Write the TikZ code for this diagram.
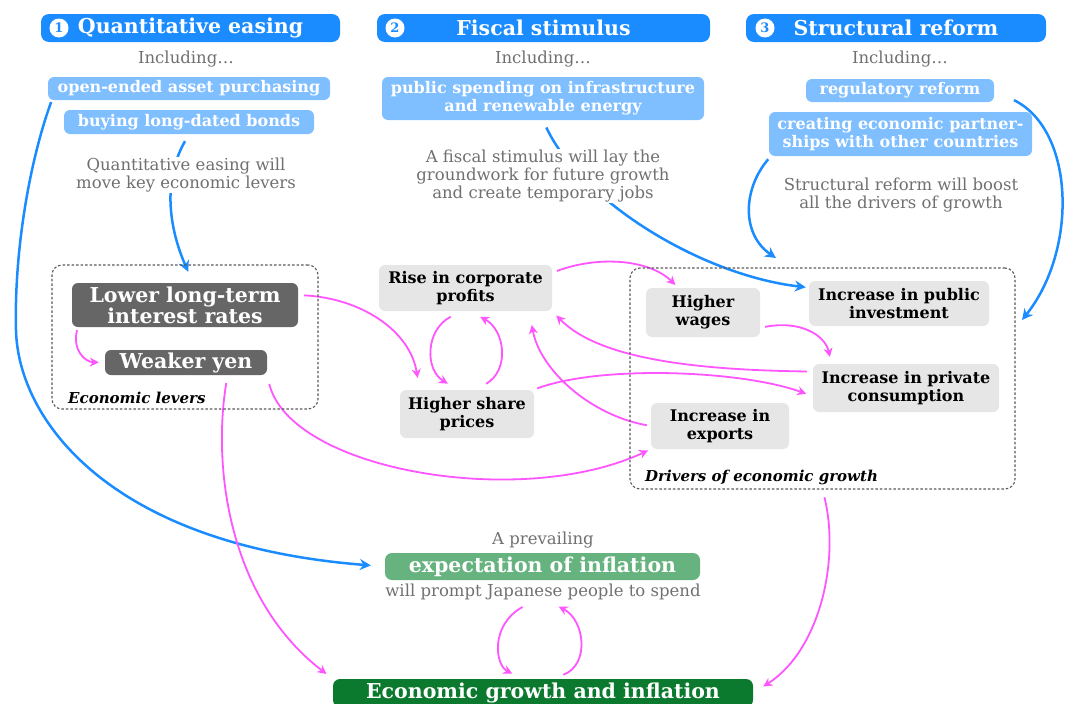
\documentclass[tikz,border=0pt]{standalone}
\usepackage{fontspec}
\setmainfont{DejaVu Serif}
\usetikzlibrary{positioning,arrows.meta,backgrounds}

\definecolor{qeblue}{HTML}{1A8CFF}
\definecolor{itemblue}{HTML}{80BFFF}
\definecolor{notegray}{HTML}{707070}
\definecolor{levergray}{HTML}{666666}
\definecolor{drivergray}{HTML}{E6E6E6}
\definecolor{expectgreen}{HTML}{66B380}
\definecolor{growthgreen}{HTML}{0B7A2E}
\definecolor{boost}{HTML}{FF55FF}

\newcommand{\fsz}[2]{\fontsize{#1}{#2}\selectfont}

\tikzset{
  header/.style={fill=qeblue, text=white, rounded corners=8pt, inner sep=0pt, minimum height=28pt, font=\bfseries\fsz{20.5}{22}},
  numdot/.style={circle, fill=white, text=qeblue, inner sep=0pt, minimum size=19pt, font=\bfseries\fsz{13}{13}},
  including/.style={text=notegray, inner sep=1pt, font=\fsz{16.5}{18}},
  item/.style={fill=itemblue, text=white, rounded corners=6pt, inner sep=0pt, align=center, font=\bfseries\fsz{16}{18}},
  note/.style={fill=white, text=notegray, inner sep=1pt, align=center, font=\fsz{16.5}{18}},
  lever/.style={fill=levergray, text=white, rounded corners=6pt, inner sep=0pt, align=center, font=\bfseries\fsz{20.5}{20}},
  driver/.style={fill=drivergray, text=black, rounded corners=6pt, inner sep=0pt, align=center, font=\bfseries\fsz{16}{18}},
  group/.style={draw=black!65, line width=1.1pt, dash pattern=on 2.5pt off 2pt, rounded corners=10pt, inner sep=0pt},
  grouplabel/.style={anchor=west, inner sep=0pt, font=\bfseries\itshape\fsz{15}{16}},
  outcome/.style={text=white, rounded corners=7pt, inner sep=0pt, font=\bfseries\fsz{20.5}{22}},
  push/.style={draw=qeblue, line width=2.5pt, -{Stealth[length=11pt,width=11pt]}},
  boostarrow/.style={draw=boost, line width=1.8pt, -{Stealth[length=9pt,width=9pt]}},
}

\begin{document}
\begin{tikzpicture}[x=1pt, y=-1pt]
  \useasboundingbox (0,0) rectangle (1066,704);

  % the three policies
  \node[header, minimum width=299pt] (qe)     at (190.5,28) {Quantitative easing};
  \node[numdot]                      (qenum)  at (59,28)    {1};
  \node[header, minimum width=333pt] (fiscal) at (543.5,28) {Fiscal stimulus};
  \node[numdot]                      (fiscalnum) at (395,28) {2};
  \node[header, minimum width=300pt] (reform) at (896,28)   {Structural reform};
  \node[numdot]                      (reformnum) at (765,28) {3};

  \node[including] (qeincl)     at (186,59) {Including…};
  \node[including] (fiscalincl) at (543,59) {Including…};
  \node[including] (reformincl) at (900,59) {Including…};

  \node[item, minimum width=282pt, minimum height=23pt] (asset)      at (189,88.5)  {open-ended asset purchasing};
  \node[item, minimum width=250pt, minimum height=24pt] (bonds)      at (189,122)   {buying long-dated bonds};
  \node[item, minimum width=322pt, minimum height=43pt] (spending)   at (543,98.5)  {public spending on infrastructure\\and renewable energy};
  \node[item, minimum width=188pt, minimum height=23pt] (regulation) at (900,90.5)  {regulatory reform};
  \node[item, minimum width=263pt, minimum height=44pt] (partners)   at (900.5,134) {creating economic partner-\\ships with other countries};

  \node[note] (qenote)     at (186,175) {Quantitative easing will\\move key economic levers};
  \node[note] (fiscalnote) at (543,176) {A fiscal stimulus will lay the\\groundwork for future growth\\and create temporary jobs};
  \node[note] (reformnote) at (901,195) {Structural reform will boost\\all the drivers of growth};

  % economic levers
  \node[group, minimum width=266pt, minimum height=144pt] (levers) at (185,337) {};
  \node[grouplabel] (leverslabel) at (68,398) {Economic levers};
  \node[lever, minimum width=226pt, minimum height=44pt] (lower) at (185,305)   {Lower long-term\\interest rates};
  \node[lever, minimum width=162pt, minimum height=25pt] (yen)   at (186,362.5) {Weaker yen};

  \node[driver, minimum width=173pt, minimum height=46pt] (profits) at (465.5,288) {Rise in corporate\\profits};
  \node[driver, minimum width=134pt, minimum height=48pt] (shares)  at (467,414)   {Higher share\\prices};

  % drivers of growth
  \node[group, minimum width=385pt, minimum height=221pt] (drivers) at (822.5,378.5) {};
  \node[grouplabel] (driverslabel) at (645,477) {Drivers of economic growth};
  \node[driver, minimum width=114pt, minimum height=49pt] (wages)       at (703,312.5) {Higher\\wages};
  \node[driver, minimum width=180pt, minimum height=45pt] (investment)  at (899,303.5) {Increase in public\\investment};
  \node[driver, minimum width=186pt, minimum height=48pt] (consumption) at (906,388)   {Increase in private\\consumption};
  \node[driver, minimum width=138pt, minimum height=46pt] (exports)     at (720,426)   {Increase in\\exports};

  % outcome
  \node[including] (prevailing) at (543,540) {A prevailing};
  \node[outcome, fill=expectgreen, minimum width=315pt, minimum height=27pt] (expectation) at (542.5,566.5) {expectation of inflation};
  \node[including] (spendnote) at (543,592) {will prompt Japanese people to spend};
  \node[outcome, fill=growthgreen, minimum width=420pt, minimum height=28pt] (growth) at (543,693) {Economic growth and inflation};

  \coordinate (reformtip)     at (776,258);
  \coordinate (regulationtip) at (1022,320);

  \begin{scope}[on background layer]
    % blue: what each policy feeds
    \draw[push, shorten <=2pt, shorten >=14pt] ([xshift=4pt]asset.south west) .. controls (30,160) and (14,250) .. (16,330) .. controls (18,420) and (110,545) .. (expectation.west);
    \draw[push, shorten <=8pt, shorten >=-8pt] (bonds.south) .. controls (160,185) and (172,235) .. (levers.north);
    \draw[push, shorten <=8pt, shorten >=3pt] (spending.south) .. controls (580,200) and (700,275) .. (investment.170);
    \draw[push, shorten <=4pt] ([xshift=2pt]partners.south west) .. controls (742,190) and (742,235) .. (reformtip);
    \draw[push, shorten <=22pt] (regulation.east) .. controls (1075,130) and (1078,250) .. (regulationtip);

    % magenta: knock-on effects
    \draw[boostarrow, shorten <=3pt, shorten >=6pt] ([xshift=6pt]lower.south west) .. controls (72,350) and (85,362) .. (yen.west);
    \draw[boostarrow, shorten <=6pt, shorten >=12pt] (lower.5) .. controls (360,298) and (410,330) .. (shares.153);
    \draw[boostarrow, shorten <=5pt, shorten >=4pt] (profits.10) .. controls (600,255) and (650,260) .. (wages.135);
    \draw[boostarrow, shorten <=12pt, shorten >=12pt] (profits.-100) .. controls (425,330) and (425,370) .. (shares.110);
    \draw[boostarrow, shorten <=12pt, shorten >=12pt] (shares.70) .. controls (510,370) and (505,330) .. (profits.-80);
    \draw[boostarrow, shorten <=5pt, shorten >=7pt] (wages.-15) .. controls (800,320) and (825,335) .. (consumption.162);
    \draw[boostarrow, shorten <=6pt, shorten >=6pt] (consumption.170) .. controls (700,370) and (600,360) .. (profits.-15);
    \draw[boostarrow, shorten <=4pt, shorten >=7pt] (shares.20) .. controls (600,365) and (740,370) .. (consumption.185);
    \draw[boostarrow, shorten <=4pt, shorten >=14pt] (exports.west) .. controls (590,415) and (540,370) .. (profits.-20);
    \draw[boostarrow, shorten <=9pt, shorten >=3pt] (yen.south east) .. controls (290,470) and (520,510) .. (exports.south west);
    \draw[boostarrow, shorten <=8pt, shorten >=8pt] (yen.-17) .. controls (212,470) and (230,600) .. (growth.north west);
    \draw[boostarrow, shorten <=8pt, shorten >=12pt] (drivers.south) .. controls (840,560) and (820,650) .. (growth.east);
    \draw[boostarrow, shorten <=12pt, shorten >=12pt] ([xshift=-10pt]spendnote.south) .. controls (490,625) and (495,665) .. ([xshift=-20pt]growth.north);
    \draw[boostarrow, shorten <=12pt, shorten >=12pt] ([xshift=9pt]growth.north) .. controls (590,665) and (585,620) .. ([xshift=5pt]spendnote.south);
  \end{scope}
\end{tikzpicture}
\end{document}
